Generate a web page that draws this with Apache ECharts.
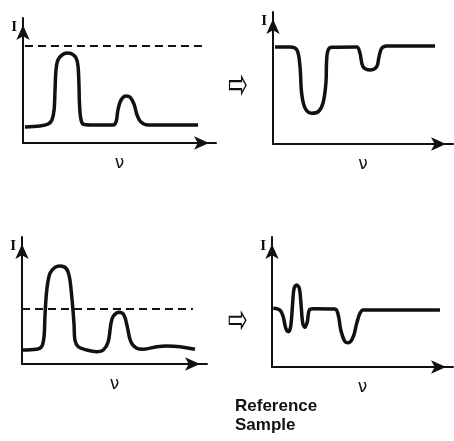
<!DOCTYPE html>
<html><head><meta charset="utf-8">
<script src="https://cdn.jsdelivr.net/npm/echarts@6/dist/echarts.min.js"></script>
<style>html,body{margin:0;padding:0;background:#fff}#c{width:454px;height:441px}</style>
</head><body><div id="c"></div>
<script>
// Panel 1: reference emission spectrum
const nu1 = [1,8.8,13,15,16.1,16.6,17.1,18.1,20.2,22.8,25.4,27.5,28.5,29,29.3,30.1,31.6,37.3,46.6,48.2,49.2,50.8,53.4,55.4,57.5,59.1,61.1,64.8,76.2,90.7];
const I1  = [12.8,13.6,15.2,18.4,26.4,42.4,58.4,66.4,70.4,72,71.2,68,61.6,46.4,30.4,18.4,14.8,14.4,14.4,16.8,26.4,34.4,37.6,36.8,31.2,22.4,16.8,14.4,14.4,14.4];
const dash1 = {from: 1, to: 93, level: 77.6};
// Panel 2: absorption after passing
const nu2 = [1.1,9.4,13.3,15,15.9,17.8,21.5,25.2,27.8,29.4,29.8,30.6,32.6,46.5,48.3,50,53.9,57.6,58.9,60.4,63.2,90];
const I2  = [73.5,73.5,71.2,58.6,38.6,27.3,23.3,24.5,31.1,46.2,63.6,71.2,73.3,73.5,68.9,58.6,56.1,58.6,66.1,72.5,74.2,74.2];
// Panel 3: sample spectrum
const nu3 = [0,7.9,10.6,11.9,12.4,13.4,15.1,17.8,20.5,23.8,25.6,26.9,28.1,28.6,30.4,35,40.4,43.9,46.6,48.1,49.4,52.6,55.1,56.9,58.8,62,65.6,72.8,78.2,85.4,93.5];
const I3  = [11,11.6,13.6,21.5,37.2,58.3,71.4,76.1,77.2,75.4,68.7,53,32,18.9,13.6,11,9.7,11,17.6,32,37.8,40.7,38.6,29.4,17.6,12.4,11.6,13.6,14.2,13.6,11.6];
const dash3 = {from: 0, to: 92.4, level: 43.3};
// Panel 4: resulting signal
const nu4 = [0.7,4.4,6.2,7.6,9,10.3,11.4,12.2,13.6,15.1,16,17,18.2,19.5,20.6,22.8,34.8,36.6,38,40.3,42.2,44.9,46.8,48.6,50.4,92.8];
const I4  = [45.2,43.8,38.7,29.8,27.2,31,49,60.5,63.1,60.5,49,33.6,30.5,34.8,43.8,44.8,44.6,40,28.5,19.5,18.7,23.3,33.6,41.3,43.8,43.8];
const yName = 'I', xName = 'ν', arrowGlyph = '⇨', caption = ['Reference', 'Sample'];

const grids = [
  {left: 23, top: 18, width: 193, height: 125},
  {left: 273, top: 12, width: 180, height: 132},
  {left: 22, top: 237, width: 185, height: 127},
  {left: 272, top: 237, width: 181, height: 130}
];
const axisLine = {lineStyle: {color: '#111', width: 2}, symbol: ['none', 'arrow'], symbolSize: [10, 15], symbolOffset: [0, -7]};
const xAxis = grids.map((g, i) => ({type: 'value', gridIndex: i, min: 0, max: 100, axisLine: axisLine,
  axisTick: {show: false}, axisLabel: {show: false}, splitLine: {show: false},
  name: xName, nameLocation: 'middle', nameGap: 12,
  nameTextStyle: {fontFamily: 'DejaVu Sans', fontSize: 17, color: '#111'}}));
const yAxis = grids.map((g, i) => ({type: 'value', gridIndex: i, min: 0, max: 100, axisLine: axisLine,
  axisTick: {show: false}, axisLabel: {show: false}, splitLine: {show: false},
  name: yName, nameLocation: 'end', nameGap: -9,
  nameTextStyle: {fontFamily: 'Liberation Serif', fontSize: 15, fontWeight: 'bold', color: '#111', align: 'right', verticalAlign: 'middle', padding: [0, 6, 0, 0]}}));
const zip = (a, b) => a.map((v, k) => [v, b[k]]);
const curve = (i, xs, ys) => ({type: 'line', xAxisIndex: i, yAxisIndex: i, data: zip(xs, ys), smooth: 0.35,
  showSymbol: false, lineStyle: {color: '#111', width: 3.5}, silent: true});
const dashed = (i, d) => ({type: 'line', xAxisIndex: i, yAxisIndex: i, data: [[d.from, d.level], [d.to, d.level]],
  showSymbol: false, lineStyle: {color: '#111', width: 1.8, type: [8, 5]}, silent: true});

const chart = echarts.init(document.getElementById('c'), null, {renderer: 'canvas'});
chart.setOption({
  animation: false,
  backgroundColor: '#fff',
  grid: grids,
  xAxis: xAxis,
  yAxis: yAxis,
  series: [curve(0, nu1, I1), dashed(0, dash1), curve(1, nu2, I2), curve(2, nu3, I3), dashed(2, dash3), curve(3, nu4, I4)],
  graphic: [
    {type: 'text', x: 238, y: 88, scaleX: 0.7, scaleY: 1.3, style: {text: arrowGlyph, font: '34px "DejaVu Sans"', fill: '#111', align: 'center', verticalAlign: 'middle'}},
    {type: 'text', x: 238, y: 322, scaleX: 0.7, scaleY: 1.2, style: {text: arrowGlyph, font: '34px "DejaVu Sans"', fill: '#111', align: 'center', verticalAlign: 'middle'}},
    {type: 'text', left: 235, top: 397, style: {text: caption.join('\n'), font: 'bold 17px "Liberation Sans"', lineHeight: 19, fill: '#111'}}
  ]
});
</script></body></html>
